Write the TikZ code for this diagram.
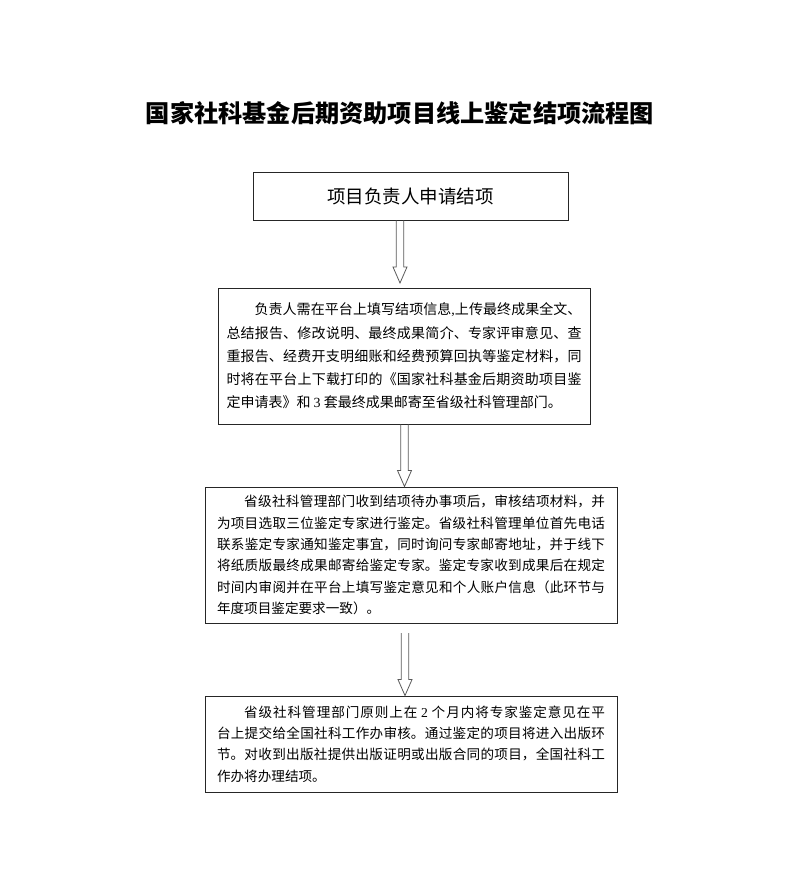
\documentclass[tikz,border=0pt]{standalone}
\usepackage{fontspec}
\newfontfamily\cjk{Noto Sans CJK SC}
\newfontfamily\latinserif{Liberation Serif}
\XeTeXlinebreaklocale "zh"
\XeTeXlinebreakskip=0pt plus 2pt minus 0.4pt
\usetikzlibrary{calc}
\tikzset{
  box/.style={draw=black!85, line width=0.9pt, fill=white},
  bodybox/.style={box, align=justify, inner ysep=0pt,
    font=\fontsize{13.6pt}{21.3pt}\selectfont\cjk},
  arrowline/.style={draw=black!65, line width=0.8pt, line join=miter},
}
\newcommand\hollowarrow[2]{%
  \draw[arrowline] let \p1=#1, \p2=#2 in
    (\x1-3.8pt,\y1) -- (\x1-3.8pt,\y2+16pt) -- (\x1-7pt,\y2+16pt) -- (\x1,\y2)
    -- (\x1+7pt,\y2+16pt) -- (\x1+3.8pt,\y2+16pt) -- (\x1+3.8pt,\y1);}
\begin{document}
\begin{tikzpicture}[x=1pt,y=-1pt]
\useasboundingbox (0,0) rectangle (799,891);
\node[font=\cjk\bfseries\fontsize{24.2pt}{24.2pt}\selectfont] (title) at (400,113) {国家社科基金后期资助项目线上鉴定结项流程图};

\node[box, minimum width=315pt, minimum height=48pt, font=\fontsize{18.5pt}{18.5pt}\selectfont\cjk] (b1) at (410.5,196) {项目负责人申请结项};

\node[bodybox, text width=355pt, inner xsep=8.5pt, minimum height=136pt,
  font=\fontsize{14pt}{23.3pt}\selectfont\cjk] (b2) at (404,356) {%
\hspace*{2em}负责人需在平台上填写结项信息{\latinserif,}上传最终成果全文、\linebreak
总结报告、修改说明、最终成果简介、专家评审意见、查\linebreak
重报告、经费开支明细账和经费预算回执等鉴定材料，同\linebreak
时将在平台上下载打印的《国家社科基金后期资助项目鉴\linebreak
定申请表》和 {\latinserif 3} 套最终成果邮寄至省级社科管理部门。};

\node[bodybox, text width=388pt, inner xsep=12pt, minimum height=136pt] (b3) at (411,555) {%
\hspace*{2em}省级社科管理部门收到结项待办事项后，审核结项材料，并\linebreak
为项目选取三位鉴定专家进行鉴定。省级社科管理单位首先电话\linebreak
联系鉴定专家通知鉴定事宜，同时询问专家邮寄地址，并于线下\linebreak
将纸质版最终成果邮寄给鉴定专家。鉴定专家收到成果后在规定\linebreak
时间内审阅并在平台上填写鉴定意见和个人账户信息（此环节与\linebreak
年度项目鉴定要求一致）。};

\node[bodybox, text width=388pt, inner xsep=12pt, minimum height=96pt] (b4) at (411,744) {%
\hspace*{2em}省级社科管理部门原则上在 {\latinserif 2} 个月内将专家鉴定意见在平\linebreak
台上提交给全国社科工作办审核。通过鉴定的项目将进入出版环\linebreak
节。对收到出版社提供出版证明或出版合同的项目，全国社科工\linebreak
作办将办理结项。};

\coordinate (t1) at (400,283);
\coordinate (t2) at (404.5,486.5);
\coordinate (s3) at (405,633);
\hollowarrow{(b1.south -| t1)}{(t1)}
\hollowarrow{(b2.south -| t2)}{(t2)}
\hollowarrow{(s3)}{(b4.north -| s3)}
\end{tikzpicture}
\end{document}
